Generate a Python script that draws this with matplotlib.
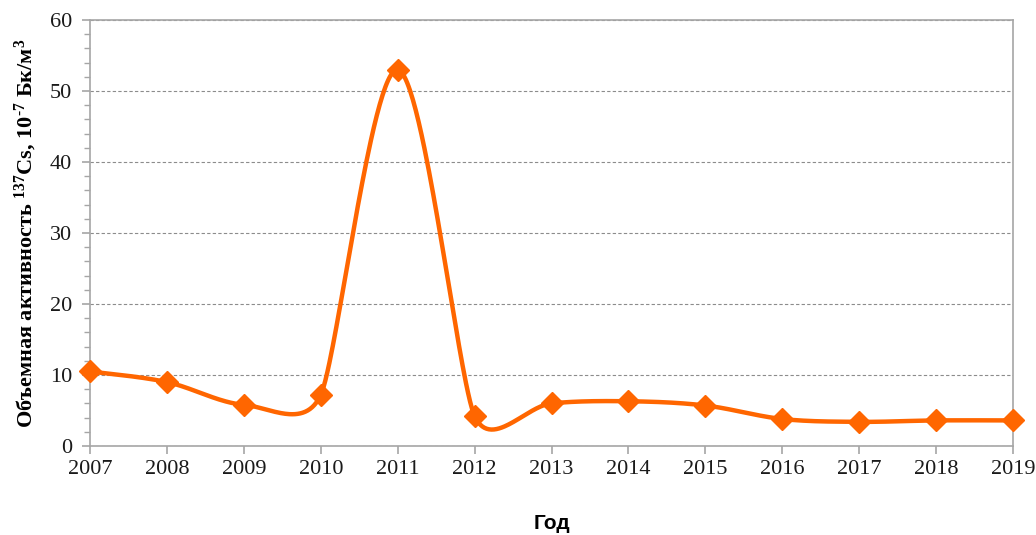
import numpy as np
import matplotlib
matplotlib.use("Agg")
import matplotlib.pyplot as plt

years = [2007, 2008, 2009, 2010, 2011, 2012, 2013, 2014, 2015, 2016, 2017, 2018, 2019]
activity = [10.5, 9.0, 5.8, 7.2, 53.0, 4.2, 6.0, 6.3, 5.7, 3.8, 3.4, 3.6, 3.6]

line_color = "#FF6600"
grid_color = "#8c8c8c"
spine_color = "#a6a6a6"

plt.rcParams['mathtext.fontset'] = 'custom'
plt.rcParams['mathtext.rm'] = 'Liberation Serif:bold'
plt.rcParams['mathtext.default'] = 'regular'


def excel_smooth(pts, n=60):
    # Excel-like bezier smoothing, done in display (pixel) coordinates
    pts = np.asarray(pts, dtype=float)
    k = len(pts)
    cout = np.zeros_like(pts)
    cin = np.zeros_like(pts)
    for i in range(k):
        p0 = pts[max(i - 1, 0)]
        p1 = pts[i]
        p2 = pts[min(i + 1, k - 1)]
        d01 = np.hypot(*(p1 - p0))
        d12 = np.hypot(*(p2 - p1))
        d02 = np.hypot(*(p2 - p0))
        if d02 == 0:
            cout[i] = p1
            cin[i] = p1
            continue
        tang = (p2 - p0) / d02
        if i == 0 or i == k - 1:
            d = d02 / 6
        elif d02 / 6 < d12 / 2 and d02 / 6 < d01 / 2:
            d = d02 / 6
        else:
            d = min(d01, d12) / 2
        cout[i] = p1 + tang * d
        cin[i] = p1 - tang * d
    t = np.linspace(0, 1, n)[:, None]
    out = []
    for i in range(k - 1):
        a, b, c, d = pts[i], cout[i], cin[i + 1], pts[i + 1]
        seg = ((1 - t) ** 3) * a + 3 * ((1 - t) ** 2) * t * b + 3 * (1 - t) * t ** 2 * c + t ** 3 * d
        out.append(seg if i == 0 else seg[1:])
    return np.vstack(out)


fig = plt.figure(figsize=(10.36, 5.35), dpi=100)
ax = fig.add_axes([0.0869, 0.1664, 0.891, 0.7962])
ax.set_xlim(2007, 2019)
ax.set_ylim(0, 60)

disp = ax.transData.transform(np.column_stack([years, activity]))
curve = ax.transData.inverted().transform(excel_smooth(disp))

ax.plot(curve[:, 0], curve[:, 1], color=line_color, lw=3.2, solid_capstyle='round', zorder=3)
ax.plot(years, activity, linestyle='none', marker='D', markersize=11,
        color=line_color, zorder=4, clip_on=False)

ax.set_yticks(np.arange(0, 61, 10))
ax.set_yticks(np.arange(0, 61, 2), minor=True)
ax.set_xticks(years)
ax.yaxis.grid(True, which='major', linestyle=(0, (3, 2)), color=grid_color, lw=0.8)
ax.set_axisbelow(True)

for s in ax.spines.values():
    s.set_color(spine_color)
    s.set_linewidth(1.2)

ax.tick_params(axis='both', which='major', length=6, color=spine_color, width=1.2,
               labelsize=16, labelcolor='#1a1a1a')
ax.tick_params(axis='y', which='major', pad=7)
ax.tick_params(axis='x', which='major', pad=4)
ax.tick_params(axis='y', which='minor', length=4, color=spine_color, width=1.0)
for lab in ax.get_xticklabels() + ax.get_yticklabels():
    lab.set_family('Liberation Serif')

ax.set_ylabel(r"Объемная активность $^{137}$Cs, 10$^{\text{-7}}$ Бк/м$^{3}$",
              family='Liberation Serif', fontweight='bold', fontsize=16, labelpad=8)
ax.set_xlabel("Год", family='Liberation Sans', fontweight='bold', fontsize=15, labelpad=25)

fig.savefig("out.png", dpi=100)
